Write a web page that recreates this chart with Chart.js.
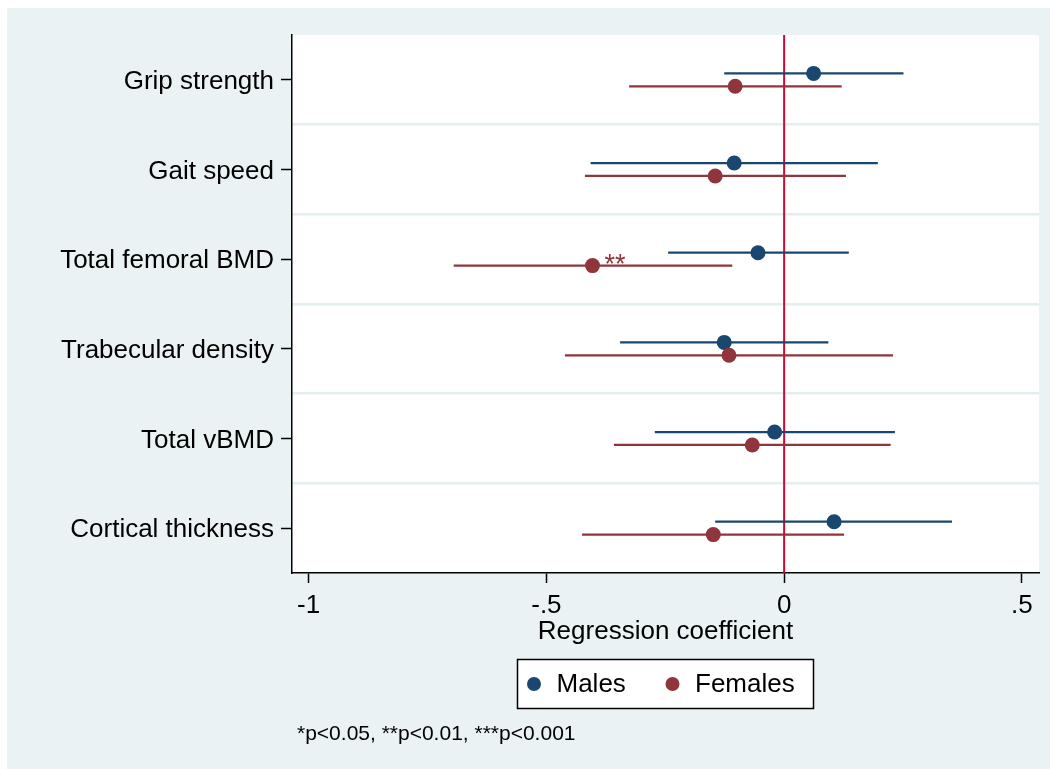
<!DOCTYPE html>
<html>
<head>
<meta charset="utf-8">
<script src="https://cdn.jsdelivr.net/npm/chart.js@4.4.1/dist/chart.umd.min.js"></script>
<style>
  html, body { margin: 0; padding: 0; background: #fff; }
  #wrap { width: 1050px; height: 769px; }
</style>
</head>
<body>
<div id="wrap"><canvas id="coefChart" width="1050" height="769"></canvas></div>
<script>
// outcomes, top to bottom
var categories = ['Grip strength', 'Gait speed', 'Total femoral BMD', 'Trabecular density', 'Total vBMD', 'Cortical thickness'];

// regression coefficients with 95% CI
var maleCoef = [0.062, -0.105, -0.055, -0.126, -0.020, 0.105];
var maleLo   = [-0.126, -0.407, -0.244, -0.345, -0.272, -0.145];
var maleHi   = [0.251, 0.197, 0.136, 0.093, 0.233, 0.353];

var femaleCoef = [-0.103, -0.145, -0.403, -0.116, -0.067, -0.149];
var femaleLo   = [-0.326, -0.419, -0.695, -0.461, -0.358, -0.425];
var femaleHi   = [0.121, 0.130, -0.109, 0.229, 0.224, 0.126];

// significance stars per outcome
var maleSig   = ['', '', '', '', '', ''];
var femaleSig = ['', '', '**', '', '', ''];

var tickValues = [-1, -0.5, 0, 0.5];
var tickLabels = ['-1', '-.5', '0', '.5'];
var refValue = 0;
var footnote = '*p<0.05, **p<0.01, ***p<0.001';

var NAVY = '#1a476f';
var MAROON = '#90353b';
var REFLINE = '#cc0a33';
var PANEL = '#eaf2f3';
var FONT = '"Liberation Sans", Arial, Helvetica, sans-serif';
var SHIFT = 0.072; // vertical dodge between the two groups

function pointsFor(coefs, shift) {
    return coefs.map(function (v, i) { return { x: v, y: i + 1 + shift }; });
}

var datasets = [
    { label: 'Females', data: pointsFor(femaleCoef, SHIFT), backgroundColor: MAROON, borderWidth: 0, pointRadius: 7.5, pointHoverRadius: 7.5, order: 0, sig: femaleSig },
    { label: 'Males', data: pointsFor(maleCoef, -SHIFT), backgroundColor: NAVY, borderWidth: 0, pointRadius: 7.5, pointHoverRadius: 7.5, order: 0, sig: maleSig }
];

// one short line per CI
function addCi(lo, hi, shift, color) {
    lo.forEach(function (v, i) {
        datasets.push({
            label: 'ci',
            data: [{ x: v, y: i + 1 + shift }, { x: hi[i], y: i + 1 + shift }],
            showLine: true,
            borderColor: color,
            borderWidth: 2.2,
            pointRadius: 0,
            order: 1
        });
    });
}
addCi(maleLo, maleHi, -SHIFT, NAVY);
addCi(femaleLo, femaleHi, SHIFT, MAROON);

var bgPlugin = {
    id: 'bg',
    beforeDraw: function (chart) {
        var c = chart.ctx, a = chart.chartArea;
        c.save();
        c.fillStyle = '#fff';
        c.fillRect(0, 0, chart.width, chart.height);
        c.fillStyle = PANEL;
        c.fillRect(7, 8, chart.width - 7, chart.height - 8);
        c.fillStyle = '#fff';
        c.fillRect(a.left, a.top, a.right - a.left, a.bottom - a.top);
        c.restore();
    }
};

var refPlugin = {
    id: 'refline',
    beforeDatasetsDraw: function (chart) {
        var c = chart.ctx, a = chart.chartArea;
        var px = chart.scales.x.getPixelForValue(refValue);
        c.save();
        c.strokeStyle = REFLINE;
        c.lineWidth = 2;
        c.beginPath();
        c.moveTo(px, a.top);
        c.lineTo(px, a.bottom);
        c.stroke();
        c.restore();
    }
};

// stars to the right of the markers
var starPlugin = {
    id: 'stars',
    afterDatasetsDraw: function (chart) {
        var c = chart.ctx;
        c.save();
        c.font = '27px ' + FONT;
        c.textAlign = 'left';
        c.textBaseline = 'alphabetic';
        [0, 1].forEach(function (di) {
            var ds = chart.data.datasets[di];
            var meta = chart.getDatasetMeta(di);
            meta.data.forEach(function (pt, i) {
                if (!ds.sig[i]) return;
                c.fillStyle = ds.backgroundColor;
                c.fillText(ds.sig[i], pt.x + 12, pt.y + 7);
            });
        });
        c.restore();
    }
};

// boxed legend and note under the axis
var legendPlugin = {
    id: 'boxLegend',
    afterDraw: function (chart) {
        var c = chart.ctx, a = chart.chartArea;
        var cx = (a.left + a.right) / 2;
        var boxW = 296, boxH = 49, top = 659.5;
        var left = cx - boxW / 2;
        c.save();
        c.fillStyle = '#fff';
        c.fillRect(left, top, boxW, boxH);
        c.strokeStyle = '#000';
        c.lineWidth = 1.5;
        c.strokeRect(left, top, boxW, boxH);

        var items = [chart.data.datasets[1], chart.data.datasets[0]];
        var xs = [left + 16.5, left + 155];
        var midY = top + boxH / 2;
        c.font = '26px ' + FONT;
        c.textBaseline = 'middle';
        c.textAlign = 'left';
        items.forEach(function (ds, k) {
            c.fillStyle = ds.backgroundColor;
            c.beginPath();
            c.arc(xs[k], midY, 7, 0, Math.PI * 2);
            c.fill();
            c.fillStyle = '#000';
            c.fillText(ds.label, xs[k] + 22.5, midY + 1);
        });

        c.font = '21px ' + FONT;
        c.textBaseline = 'alphabetic';
        c.fillText(footnote, 297, 740);
        c.restore();
    }
};

var axisFont = { family: FONT, size: 26 };

new Chart(document.getElementById('coefChart').getContext('2d'), {
    type: 'scatter',
    data: { datasets: datasets },
    options: {
        responsive: false,
        devicePixelRatio: 1,
        animation: false,
        layout: { padding: { top: 35, right: 11, left: 0, bottom: 0 } },
        plugins: {
            legend: { display: false },
            tooltip: { enabled: false }
        },
        scales: {
            x: {
                type: 'linear',
                min: -1.035,
                max: 0.536,
                afterBuildTicks: function (s) {
                    s.ticks = tickValues.map(function (v) { return { value: v }; });
                },
                afterFit: function (s) { s.height = 196; },
                ticks: {
                    autoSkip: false,
                    maxRotation: 0,
                    padding: 7,
                    color: '#000',
                    font: axisFont,
                    callback: function (v) { return tickLabels[tickValues.indexOf(v)]; }
                },
                grid: { display: true, drawOnChartArea: false, drawTicks: true, tickLength: 10, tickColor: '#000', tickWidth: 1.5 },
                border: { display: true, color: '#000', width: 1.5 },
                title: {
                    display: true,
                    text: 'Regression coefficient',
                    color: '#000',
                    font: axisFont,
                    padding: { top: 0, bottom: 122 }
                }
            },
            y: {
                type: 'linear',
                reverse: true,
                min: 0.5,
                max: 6.5,
                afterBuildTicks: function (s) {
                    s.ticks = categories.map(function (c, i) { return { value: i + 1 }; });
                },
                afterFit: function (s) { s.width = 292; },
                ticks: {
                    autoSkip: false,
                    padding: 7,
                    labelOffset: 2,
                    color: '#000',
                    font: axisFont,
                    callback: function (v) { return categories[v - 1]; }
                },
                grid: { display: true, drawOnChartArea: false, drawTicks: true, tickLength: 11, tickColor: '#000', tickWidth: 1.5 },
                border: { display: true, color: '#000', width: 1.5 }
            },
            // light separators between outcomes
            yg: {
                type: 'linear',
                position: 'right',
                reverse: true,
                min: 0.5,
                max: 6.5,
                afterBuildTicks: function (s) {
                    s.ticks = categories.slice(1).map(function (c, i) { return { value: i + 1.5 }; });
                },
                afterFit: function (s) { s.width = 0; },
                ticks: { display: false },
                grid: { color: '#e4edef', lineWidth: 2.5, drawTicks: false },
                border: { display: false }
            }
        }
    },
    plugins: [bgPlugin, refPlugin, starPlugin, legendPlugin]
});
</script>
</body>
</html>
